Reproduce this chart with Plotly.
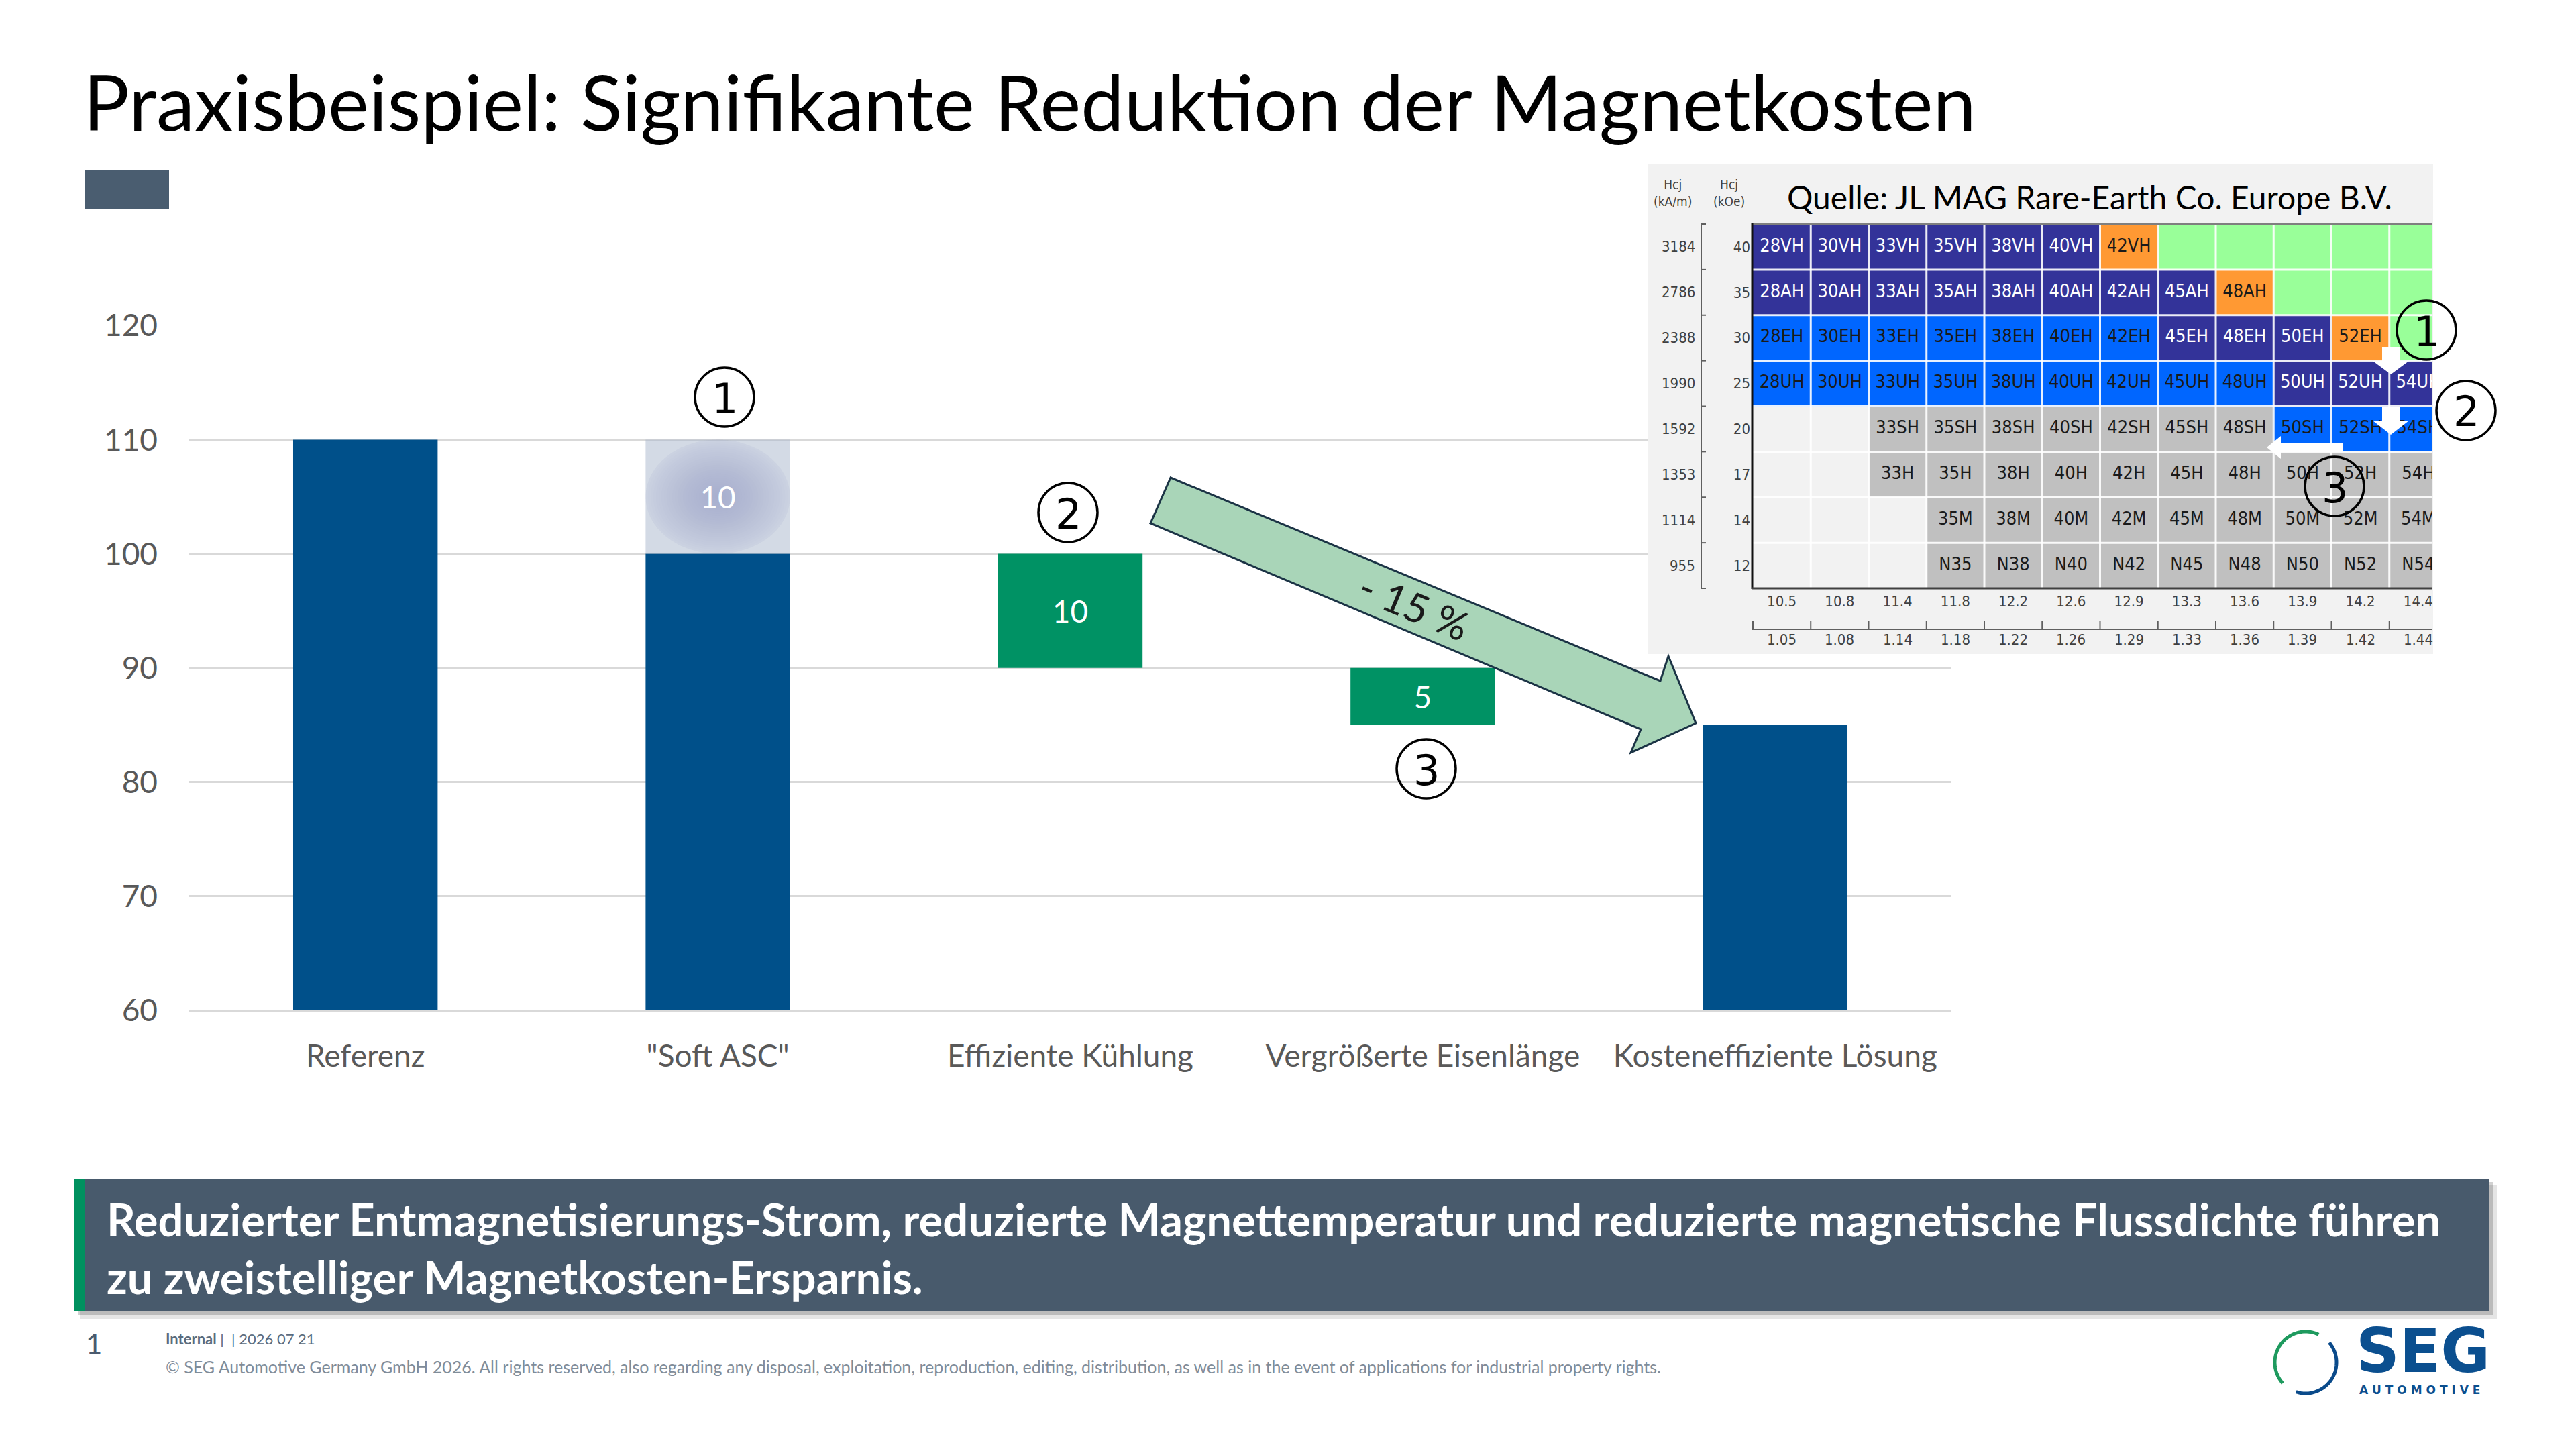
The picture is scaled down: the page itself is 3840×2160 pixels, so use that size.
import plotly.graph_objects as go
import numpy as np

W, H = 3840, 2160
def px(x): return x / W
def py(y): return 1 - y / H

# ---------------- data ----------------
categories = ["Referenz", "\"Soft ASC\"", "Effiziente Kühlung", "Vergrößerte Eisenlänge", "Kosteneffiziente Lösung"]
reference_cost = 110
savings = [10, 10, 5]          # Soft ASC, Effiziente Kühlung, Vergrößerte Eisenlänge
axis_floor = 60
y_ticks = [60, 70, 80, 90, 100, 110, 120]

# inset (magnet grade table)
hcj_koe = ["40", "35", "30", "25", "20", "17", "14", "12"]
hcj_kam = ["3184", "2786", "2388", "1990", "1592", "1353", "1114", "955"]
br_kgs = ["10.5", "10.8", "11.4", "11.8", "12.2", "12.6", "12.9", "13.3", "13.6", "13.9", "14.2", "14.4"]
br_t = ["1.05", "1.08", "1.14", "1.18", "1.22", "1.26", "1.29", "1.33", "1.36", "1.39", "1.42", "1.44"]
grade_rows = [
    ["28VH", "30VH", "33VH", "35VH", "38VH", "40VH", "42VH", "", "", "", "", ""],
    ["28AH", "30AH", "33AH", "35AH", "38AH", "40AH", "42AH", "45AH", "48AH", "", "", ""],
    ["28EH", "30EH", "33EH", "35EH", "38EH", "40EH", "42EH", "45EH", "48EH", "50EH", "52EH", ""],
    ["28UH", "30UH", "33UH", "35UH", "38UH", "40UH", "42UH", "45UH", "48UH", "50UH", "52UH", "54UH"],
    ["", "", "33SH", "35SH", "38SH", "40SH", "42SH", "45SH", "48SH", "50SH", "52SH", "54SH"],
    ["", "", "33H", "35H", "38H", "40H", "42H", "45H", "48H", "50H", "52H", "54H"],
    ["", "", "", "35M", "38M", "40M", "42M", "45M", "48M", "50M", "52M", "54M"],
    ["", "", "", "N35", "N38", "N40", "N42", "N45", "N48", "N50", "N52", "N54"],
]
# 0 empty, 1 grey, 2 light blue, 3 dark blue, 4 orange, 5 green
class_rows = [
    [3, 3, 3, 3, 3, 3, 4, 5, 5, 5, 5, 5],
    [3, 3, 3, 3, 3, 3, 3, 3, 4, 5, 5, 5],
    [2, 2, 2, 2, 2, 2, 2, 3, 3, 3, 4, 5],
    [2, 2, 2, 2, 2, 2, 2, 2, 2, 3, 3, 3],
    [0, 0, 1, 1, 1, 1, 1, 1, 1, 2, 2, 2],
    [0, 0, 1, 1, 1, 1, 1, 1, 1, 1, 1, 1],
    [0, 0, 0, 1, 1, 1, 1, 1, 1, 1, 1, 1],
    [0, 0, 0, 1, 1, 1, 1, 1, 1, 1, 1, 1],
]
class_colors = ["#F2F2F2", "#C0C0C0", "#0066FF", "#333399", "#FF9933", "#99FF99"]

# ---------------- derived ----------------
after_soft = reference_cost - savings[0]
after_cool = after_soft - savings[1]
final_cost = after_cool - savings[2]

DARK = "#00508A"
GREEN = "#009264"
GREY_TXT = "#595959"
FONT = "Lato"
NARROW = "Liberation Sans Narrow, DejaVu Sans Condensed, Liberation Sans"

fig = go.Figure()

# main bars
fig.add_trace(go.Bar(
    x=[categories[0], categories[1], categories[4]],
    y=[reference_cost - axis_floor, after_soft - axis_floor, final_cost - axis_floor],
    base=axis_floor, marker=dict(color=DARK, line_width=0), width=0.41, hoverinfo="skip"))
fig.add_trace(go.Bar(
    x=[categories[1]], y=[savings[0]], base=[after_soft],
    marker=dict(color="rgba(167,181,203,0.5)", line_width=0), width=0.41,
    text=[str(savings[0])], textposition="inside", insidetextanchor="middle",
    textangle=0, textfont=dict(color="white", size=46, family=FONT), hoverinfo="skip"))
fig.add_trace(go.Bar(
    x=[categories[2], categories[3]], y=savings[1:], base=[after_cool, final_cost],
    marker=dict(color=GREEN, line_width=0), width=0.41,
    text=[str(v) for v in savings[1:]], textposition="inside", insidetextanchor="middle",
    textangle=0, textfont=dict(color="white", size=46, family=FONT), hoverinfo="skip"))

# inset background (x2y2)
fig.add_trace(go.Scatter(x=[0, 1, 1, 0, 0], y=[0, 0, 1, 1, 0], fill="toself", fillcolor="#F2F2F2",
                         mode="lines", line=dict(width=0), xaxis="x2", yaxis="y2", hoverinfo="skip"))
# inset table (x3y3)
ncol, nrow = len(br_kgs), len(hcj_koe)
cs = []
for i, c in enumerate(class_colors):
    cs += [[i / len(class_colors), c], [(i + 1) / len(class_colors), c]]
fig.add_trace(go.Heatmap(z=class_rows, x=list(range(ncol)), y=list(range(nrow)), colorscale=cs,
                         zmin=-0.5, zmax=len(class_colors) - 0.5, showscale=False,
                         xaxis="x3", yaxis="y3", hoverinfo="skip"))
tx, ty, tt, tc = [], [], [], []
for r in range(nrow):
    for c in range(ncol):
        if grade_rows[r][c]:
            tx.append(c); ty.append(r); tt.append(grade_rows[r][c])
            tc.append("white" if class_rows[r][c] == 3 else "#1A1A1A")
fig.add_trace(go.Scatter(x=tx, y=ty, text=tt, mode="text", textfont=dict(color=tc, size=27, family=NARROW),
                         xaxis="x3", yaxis="y3", cliponaxis=True, hoverinfo="skip"))

shapes = []
annos = []

def A(text, x, y, size, color="black", family=FONT, xanchor="left", yanchor="middle", **kw):
    annos.append(dict(text=text, x=px(x), y=py(y), xref="paper", yref="paper", showarrow=False,
                      xanchor=xanchor, yanchor=yanchor, font=dict(size=size, color=color, family=family), **kw))

def R(x0, y0, x1, y1, color, layer="above", **kw):
    shapes.append(dict(type="rect", xref="paper", yref="paper", x0=px(x0), x1=px(x1), y0=py(y1), y1=py(y0),
                       fillcolor=color, line=dict(width=0), layer=layer, **kw))

def L(x0, y0, x1, y1, color, width):
    shapes.append(dict(type="line", xref="paper", yref="paper", x0=px(x0), x1=px(x1), y0=py(y0), y1=py(y1),
                       line=dict(color=color, width=width), layer="above"))

def P(points, fill, line_color=None, lw=0):
    d = "M " + " L ".join(f"{px(a):.5f},{py(b):.5f}" for a, b in points) + " Z"
    shapes.append(dict(type="path", xref="paper", yref="paper", path=d, fillcolor=fill,
                       line=dict(color=line_color or fill, width=lw), layer="above"))

def circled(num, cx, cy, r=44):
    shapes.append(dict(type="circle", xref="paper", yref="paper", x0=px(cx - r), x1=px(cx + r),
                       y0=py(cy + r), y1=py(cy - r), line=dict(color="black", width=3.5),
                       fillcolor="rgba(0,0,0,0)", layer="above"))
    A(num, cx, cy + 2, 62, "black", "DejaVu Sans", xanchor="center")

# radial gradient under the translucent Soft-ASC bar
n_el = 30
for k in range(n_el):
    f = 1.12 * (1 - k / n_el)
    hx = min(0.205, 0.205 * f)
    hy = min(5.0, 5.0 * f)
    shapes.append(dict(type="circle", xref="x", yref="y", x0=1 - hx, x1=1 + hx,
                       y0=after_soft + savings[0] / 2 - hy, y1=after_soft + savings[0] / 2 + hy,
                       fillcolor="rgba(120,138,182,0.033)", line=dict(width=0), layer="between"))

# title + small box
A("Praxisbeispiel: Signifikante Reduktion der Magnetkosten", 122, 150, 115, "black")
R(127, 253, 252, 312, "#4A5D70")

# big arrow
P([(1745, 712), (2475, 1015), (2487, 978), (2528, 1078), (2431, 1122), (2446, 1087), (1715, 780)],
  "#A9D5B8", "#1B3345", 3)
annos.append(dict(text="- 15 %", x=px(2108), y=py(903), xref="paper", yref="paper", showarrow=False,
                  textangle=22.6, font=dict(size=60, color="#1A1A1A", family=FONT)))

# circled markers on the chart
circled("1", 1080, 592)
circled("2", 1592, 764)
circled("3", 2126, 1146)

# inset decorations
A("Quelle: JL MAG Rare-Earth Co. Europe B.V.", 2662, 293, 48, "black")
A("Hcj<br>(kA/m)", 2493, 287, 19, "#404040", NARROW, xanchor="center")
A("Hcj<br>(kOe)", 2577, 287, 19, "#404040", NARROW, xanchor="center")
for r in range(nrow):
    annos.append(dict(text=hcj_kam[r], x=px(2529), y=r, xref="paper", yref="y3", showarrow=False,
                      xanchor="right", font=dict(size=22, color="#404040", family=NARROW)))
for c in range(ncol):
    annos.append(dict(text=br_t[c], x=c, y=py(953), xref="x3", yref="paper", showarrow=False,
                      font=dict(size=22, color="#404040", family=NARROW)))
row_h = (877 - 334) / nrow
col_w = 86.25
# white cell grid
for k in range(1, nrow):
    L(2613, 334 + k * row_h, 3626, 334 + k * row_h, "rgba(255,255,255,0.9)", 3)
for k in range(1, ncol + 1):
    xk = 2613 + k * col_w
    if xk < 3626:
        L(xk, 334, xk, 877, "rgba(255,255,255,0.9)", 3)
L(2536, 333, 2536, 878, "#606060", 2)
for k in range(nrow + 1):
    L(2536, 334 + k * row_h, 2543, 334 + k * row_h, "#606060", 2)
L(2611, 938, 3626, 938, "#606060", 2)
for k in range(ncol + 1):
    xk = 2613 + k * col_w
    if xk <= 3626:
        L(xk, 925, xk, 938, "#606060", 2)
L(2612, 334, 3626, 334, "#7F7F7F", 4)
L(2612, 333, 2612, 878, "#111111", 3)
L(2612, 877, 3626, 877, "#404040", 3)
# white arrows in inset
P([(3551, 518), (3578, 518), (3578, 538), (3591, 538), (3564, 558), (3537, 538), (3551, 538)], "white")
P([(3551, 607), (3578, 607), (3578, 627), (3591, 627), (3564, 648), (3537, 627), (3551, 627)], "white")
P([(3493, 660), (3493, 674), (3400, 674), (3400, 684), (3379, 667), (3400, 650), (3400, 660)], "white")
circled("1", 3617, 492)
circled("2", 3676, 612)
circled("3", 3480, 725)

# banner
R(120, 1766, 3722, 1966, "rgba(0,0,0,0.10)", layer="below")
R(116, 1762, 3716, 1960, "rgba(0,0,0,0.18)", layer="below")
R(110, 1758, 3710, 1954, "#485A6C", layer="below")
R(110, 1758, 127, 1954, "#00915F", layer="below")
A("<b>Reduzierter Entmagnetisierungs-Strom, reduzierte Magnettemperatur und reduzierte magnetische Flussdichte führen</b>",
  157, 1817, 67, "white")
A("<b>zu zweistelliger Magnetkosten-Ersparnis.</b>", 157, 1903, 67, "white")

# footer
A("1", 140, 2003, 42, "#4A5A6E", xanchor="center")
A("<b>Internal</b> |  | 2026 07 21", 245, 1995, 22, "#5A6B7D")
A("© SEG Automotive Germany GmbH 2026. All rights reserved, also regarding any disposal, exploitation, reproduction, "
  "editing, distribution, as well as in the event of applications for industrial property rights.",
  245, 2037, 25, "#7F8C99")

# logo
def arc(cx, cy, r, a0, a1, color, n=50):
    angs = np.radians(np.linspace(a0, a1, n))
    d = "M " + " L ".join(f"{px(cx + r*np.cos(a)):.5f},{py(cy - r*np.sin(a)):.5f}" for a in angs)
    shapes.append(dict(type="path", xref="paper", yref="paper", path=d,
                       line=dict(color=color, width=5), layer="above"))
arc(3437, 2031, 46, 65, 222, "#1E9A5E")
arc(3437, 2031, 46, 40, -108, "#0A4A8A")
A("<b>SEG</b>", 3510, 2013, 90, "#0B4F8F", "DejaVu Sans")
A("<b>A U T O M O T I V E</b>", 3515, 2072, 17, "#0B4F8F", "DejaVu Sans")

fig.update_layout(
    width=W, height=H, margin=dict(l=0, r=0, t=0, b=0, pad=0, autoexpand=False),
    paper_bgcolor="white", plot_bgcolor="white", showlegend=False, barmode="overlay",
    font=dict(family=FONT),
    xaxis=dict(domain=[px(282), px(2909)], range=[-0.5, 4.5], categoryorder="array", categoryarray=categories,
               showline=True, linecolor="#D9D9D9", automargin=False,
               linewidth=3, showgrid=False, ticks="", tickfont=dict(size=46, color=GREY_TXT, family=FONT),
               ticklabelstandoff=26, fixedrange=True, anchor="y"),
    yaxis=dict(domain=[py(1506), py(485)], range=[60, 120.02], tickvals=y_ticks, showgrid=True,
               gridcolor="#D9D9D9", gridwidth=3, zeroline=False, showline=False, ticks="", automargin=False,
               tickfont=dict(size=46, color=GREY_TXT, family=FONT), ticklabelstandoff=46,
               fixedrange=True, anchor="x"),
    xaxis2=dict(domain=[px(2456), px(3627)], range=[0, 1], visible=False, anchor="y2", fixedrange=True),
    yaxis2=dict(domain=[py(975), py(245)], range=[0, 1], visible=False, anchor="x2", fixedrange=True),
    xaxis3=dict(domain=[px(2613), px(3626)], range=[-0.5, -0.5 + (3626 - 2613) / col_w],
                tickvals=list(range(ncol)), ticktext=br_kgs, showgrid=False, zeroline=False, ticks="",
                tickfont=dict(size=22, color="#404040", family=NARROW), ticklabelstandoff=4,
                anchor="y3", fixedrange=True, automargin=False),
    yaxis3=dict(domain=[py(877), py(334)], range=[nrow - 0.5, -0.5], tickvals=list(range(nrow)),
                ticktext=hcj_koe, showgrid=False, zeroline=False, ticks="",
                tickfont=dict(size=22, color="#404040", family=NARROW), ticklabelstandoff=3,
                anchor="x3", fixedrange=True, automargin=False),
    shapes=shapes, annotations=annos,
)

fig.write_html("out.html")
